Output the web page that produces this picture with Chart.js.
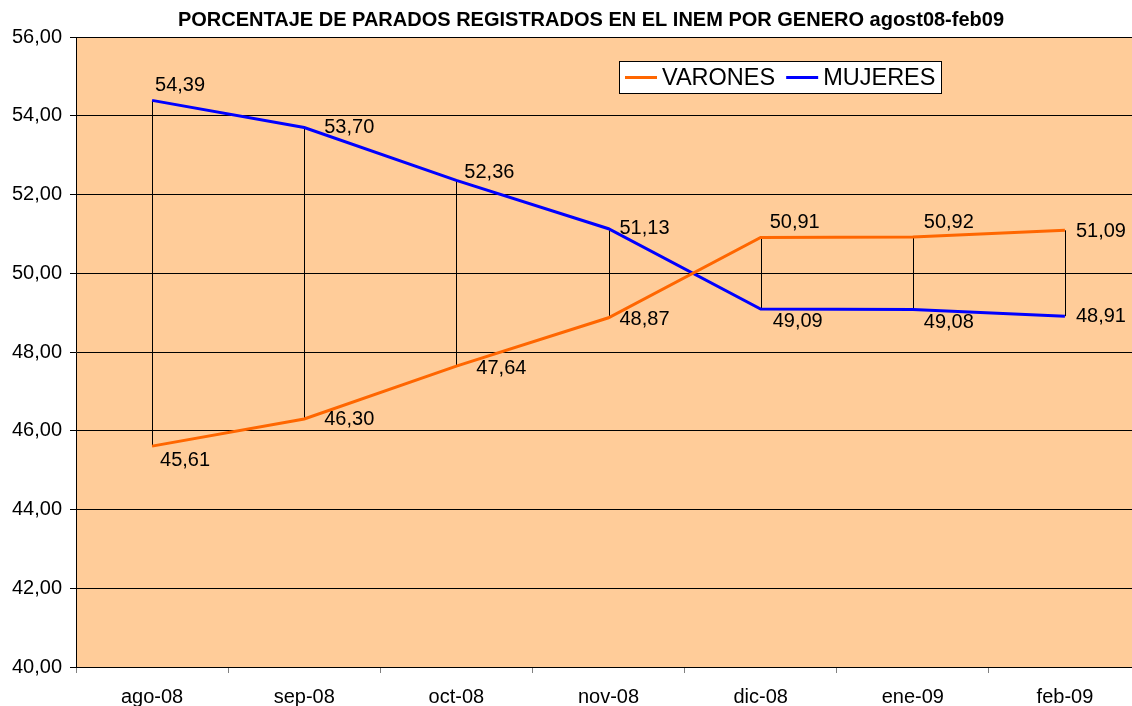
<!DOCTYPE html>
<html>
<head>
<meta charset="utf-8">
<script src="https://cdn.jsdelivr.net/npm/chart.js@4.4.1/dist/chart.umd.min.js"></script>
<style>
html,body{margin:0;padding:0;background:#fff;overflow:hidden;}
#wrap{width:1182px;height:706px;}
</style>
</head>
<body>
<div id="wrap"><canvas id="c" width="1182" height="706"></canvas></div>
<script>
const categories = ["ago-08","sep-08","oct-08","nov-08","dic-08","ene-09","feb-09"];
const varones = [45.61, 46.30, 47.64, 48.87, 50.91, 50.92, 51.09];
const mujeres = [54.39, 53.70, 52.36, 51.13, 49.09, 49.08, 48.91];
const titleText = "PORCENTAJE DE PARADOS REGISTRADOS EN EL INEM POR GENERO agost08-feb09";

// label placement offsets (dx, dy from the point), styling only
const varLabelOff = [[8,14],[20,1],[20,2],[11,2],[9,-15],[11,-15],[11,1]];
const mujLabelOff = [[3,-15],[20,0],[8,-8],[11,0],[12,12],[11,13],[11,0]];

const fmt = v => v.toFixed(2).replace('.', ',');

const titleShiftPlugin = {
  id: 'titleShift',
  afterLayout(chart) {
    if (chart.titleBlock) { chart.titleBlock.left += 41; }
  }
};

const bgPlugin = {
  id: 'bg',
  beforeDraw(chart) {
    const {ctx, chartArea: a} = chart;
    ctx.save();
    ctx.fillStyle = '#FFCC99';
    ctx.fillRect(a.left, a.top, a.right - a.left, a.bottom - a.top);
    ctx.restore();
  }
};

const dropPlugin = {
  id: 'drop',
  beforeDatasetsDraw(chart) {
    const {ctx, scales: {x, y}} = chart;
    ctx.save();
    ctx.strokeStyle = '#000';
    ctx.lineWidth = 1;
    categories.forEach((c, i) => {
      const px = Math.round(x.getPixelForValue(i)) + 0.5;
      ctx.beginPath();
      ctx.moveTo(px, y.getPixelForValue(mujeres[i]));
      ctx.lineTo(px, y.getPixelForValue(varones[i]));
      ctx.stroke();
    });
    ctx.restore();
  }
};

const labelPlugin = {
  id: 'lbl',
  afterDatasetsDraw(chart) {
    const {ctx, scales: {x, y}} = chart;
    ctx.save();
    ctx.font = '20px "Liberation Sans", Arial, sans-serif';
    ctx.fillStyle = '#000';
    ctx.textAlign = 'left';
    ctx.textBaseline = 'middle';
    const draw = (arr, off) => arr.forEach((v, i) => {
      ctx.fillText(fmt(v), x.getPixelForValue(i) + off[i][0], y.getPixelForValue(v) + off[i][1]);
    });
    draw(mujeres, mujLabelOff);
    draw(varones, varLabelOff);
    ctx.restore();
  }
};

const legendPlugin = {
  id: 'customLegend',
  afterDraw(chart) {
    const {ctx} = chart;
    ctx.save();
    const bx = 619.5, by = 61.5, bw = 322, bh = 32;
    ctx.fillStyle = '#fff';
    ctx.fillRect(bx, by, bw, bh);
    ctx.strokeStyle = '#000';
    ctx.lineWidth = 1;
    ctx.strokeRect(bx, by, bw, bh);
    ctx.font = '23.5px "Liberation Sans", Arial, sans-serif';
    ctx.textBaseline = 'middle';
    ctx.fillStyle = '#000';
    const items = chart.data.datasets;
    let xpos = 625;
    const cy = 77.5;
    items.forEach(ds => {
      ctx.strokeStyle = ds.borderColor;
      ctx.lineWidth = 3;
      ctx.beginPath();
      ctx.moveTo(xpos, cy);
      ctx.lineTo(xpos + 32, cy);
      ctx.stroke();
      ctx.fillText(ds.label, xpos + 37, cy + 1);
      xpos += 37 + ctx.measureText(ds.label).width + 11;
    });
    ctx.restore();
  }
};

new Chart(document.getElementById('c'), {
  type: 'line',
  data: {
    labels: categories,
    datasets: [
      {label: 'VARONES', data: varones, borderColor: '#FF6600', borderWidth: 3, pointRadius: 0, tension: 0, fill: false},
      {label: 'MUJERES', data: mujeres, borderColor: '#0000FF', borderWidth: 3, pointRadius: 0, tension: 0, fill: false}
    ]
  },
  options: {
    responsive: false,
    animation: false,
    devicePixelRatio: 1,
    layout: {padding: {left: 0, right: 41, top: 0, bottom: 0}},
    plugins: {
      legend: {display: false},
      tooltip: {enabled: false},
      title: {
        display: true,
        text: titleText,
        color: '#000',
        font: {family: '"Liberation Sans", Arial, sans-serif', size: 20, weight: 'bold'},
        padding: {top: 8, bottom: 5}
      }
    },
    scales: {
      x: {
        offset: true,
        grid: {offset: true, drawOnChartArea: false, drawTicks: true, tickLength: 6, color: '#808080'},
        border: {color: '#000', width: 1},
        ticks: {color: '#000', font: {family: '"Liberation Sans", Arial, sans-serif', size: 20}, padding: 12, maxRotation: 0, autoSkip: false},
        afterFit(s) { s.height = 39; }
      },
      y: {
        min: 40, max: 56,
        grid: {color: '#000', lineWidth: 1, drawTicks: true, tickLength: 6},
        border: {color: '#000', width: 1},
        ticks: {stepSize: 2, color: '#000', padding: 8, font: {family: '"Liberation Sans", Arial, sans-serif', size: 20}, callback: v => fmt(v)},
        afterFit(s) { s.width = 76; }
      }
    }
  },
  plugins: [titleShiftPlugin, bgPlugin, dropPlugin, labelPlugin, legendPlugin]
});
</script>
</body>
</html>
